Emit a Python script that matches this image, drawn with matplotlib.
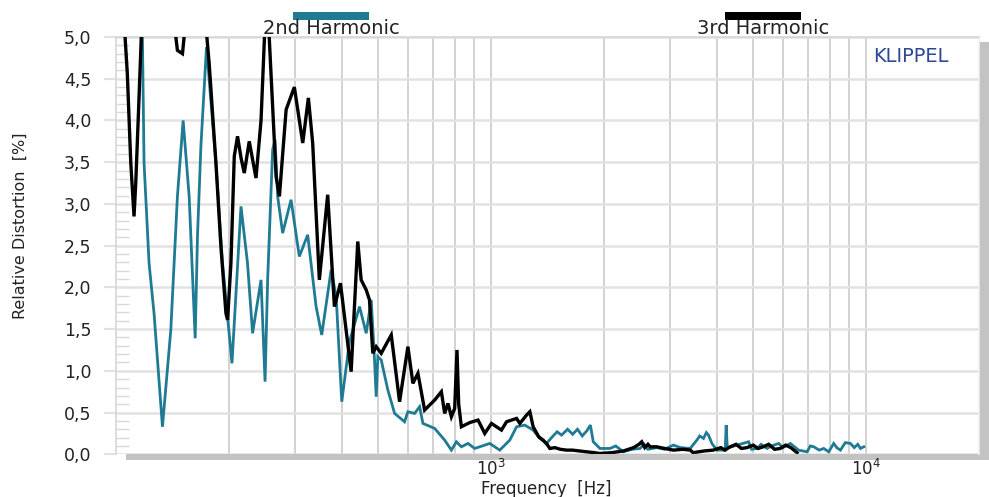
import math
import matplotlib
matplotlib.use("Agg")
import matplotlib.pyplot as plt
from matplotlib.patches import Rectangle
from matplotlib.ticker import FixedLocator, FuncFormatter, NullFormatter

# ---- data ----
freq_h3 = [104.4, 107.2, 109.5, 111.7, 112.9, 115.2, 116.8, 130.3, 144.4, 145.8, 150.4, 151.9,
           162.6, 174.7, 177.2, 184.7, 190.4, 196.4, 198.4, 202.5, 206.7, 210.9, 215.5, 219.8,
           226.6, 236.2, 243.6, 248.6, 252.5, 256.4, 267.2, 272.7, 284.2, 298.9, 314.7, 325.8,
           334.5, 348.5, 366.8, 382.3, 396.7, 423.6, 441.2, 450.5, 464.6, 474.1, 483.9, 494.0,
           509.5, 541.9, 570.3, 600.2, 618.9, 638.3, 665.1, 707.4, 737.1, 752.2, 767.6, 783.9,
           799.9, 811.3, 819.8, 833.5, 877.2, 923.2, 962.1, 1002.5, 1066, 1100, 1169.6, 1193.5,
           1243.7, 1269, 1295, 1340, 1377, 1410, 1435, 1480, 1530, 1590, 1650, 1720, 1798, 1880,
           1952, 2100, 2253, 2400, 2480, 2522, 2570, 2620, 2655, 2766, 2900, 3064, 3250,
           3396, 3458, 3700, 3911, 4100, 4200, 4342, 4500, 4650, 4813, 5000, 5150, 5319,
           5500, 5700, 5906, 6100, 6300, 6544]
dist_h3 = [5.4, 4.56, 3.49, 2.85, 3.25, 4.28, 5.0, 6.0, 5.0, 4.84, 4.80, 5.0,
           6.0, 5.0, 4.68, 3.49, 2.49, 1.69, 1.61, 2.29, 3.57, 3.81, 3.55, 3.37,
           3.75, 3.31, 4.0, 4.96, 5.6, 4.96, 3.33, 3.09, 4.13, 4.40, 3.73, 4.27,
           3.73, 2.09, 3.11, 1.77, 2.05, 0.99, 2.55, 2.09, 1.97, 1.85, 1.21, 1.29,
           1.21, 1.43, 0.63, 1.29, 0.85, 0.97, 0.53, 0.65, 0.75, 0.49, 0.61, 0.45,
           0.55, 1.25, 0.60, 0.33, 0.38, 0.41, 0.25, 0.37, 0.29, 0.39, 0.43, 0.37,
           0.47, 0.51, 0.33, 0.21, 0.17, 0.12, 0.07, 0.08, 0.06, 0.05, 0.05, 0.04, 0.03, 0.02,
           0.01, 0.02, 0.04, 0.08, 0.12, 0.15, 0.08, 0.12, 0.09, 0.09, 0.07, 0.05, 0.06,
           0.05, 0.02, 0.04, 0.05, 0.08, 0.05, 0.09, 0.12, 0.07, 0.08, 0.11, 0.07, 0.09,
           0.12, 0.06, 0.07, 0.11, 0.08, 0.02]

freq_h2 = [113.0, 117.6, 118.8, 122.5, 126.3, 133.0, 140.0, 145.8, 151.0, 156.7, 162.6, 164.9,
           168.4, 174.3, 184.7, 192.3, 203.8, 215.4, 224.2, 231.3, 243.6, 249.7, 253.7, 261.6,
           265.5, 269.8, 278.2, 292.9, 308.2, 324.4, 341.6, 353.6, 374.7, 386.4, 399.9, 419.3,
           446.0, 464.6, 479.2, 489.0, 494.0, 499.0, 509.5, 530.7, 553.1, 588.0, 600.2, 625.4,
           645.0, 658.2, 707.4, 752.2, 783.9, 808.3, 833.5, 868.2, 904.6, 992, 1055, 1122,
           1169.6, 1230, 1295, 1349, 1406, 1450, 1500, 1542, 1600, 1650, 1700, 1750, 1800, 1840,
           1873, 1952, 2075, 2150, 2253, 2380, 2496, 2560, 2620, 2766, 2900, 3064, 3200,
           3396, 3538, 3600, 3685, 3750, 3800, 3880, 4002, 4167, 4211, 4236, 4262, 4296,
           4861, 4950, 5118, 5250, 5443, 5600, 5847, 6000, 6281, 6609, 6961, 7100, 7251,
           7500, 7709, 7950, 8196, 8350, 8543, 8800, 9085, 9300, 9500, 9662, 9860]
dist_h2 = [6.2, 5.0, 3.49, 2.29, 1.69, 0.33, 1.49, 3.09, 4.0, 3.09, 1.39, 2.61,
           3.69, 4.88, 3.49, 2.29, 1.09, 2.97, 2.29, 1.45, 2.09, 0.87, 2.09, 3.65,
           3.77, 3.09, 2.65, 3.05, 2.37, 2.63, 1.77, 1.43, 2.21, 1.89, 0.63, 1.35,
           1.77, 1.45, 1.85, 1.13, 0.69, 1.17, 1.13, 0.77, 0.49, 0.39, 0.51, 0.49,
           0.57, 0.37, 0.31, 0.17, 0.05, 0.15, 0.09, 0.13, 0.07, 0.13, 0.05, 0.17,
           0.33, 0.35, 0.29, 0.19, 0.13, 0.20, 0.27, 0.23, 0.30, 0.24, 0.30, 0.22, 0.28, 0.35,
           0.15, 0.07, 0.07, 0.10, 0.03, 0.06, 0.07, 0.12, 0.06, 0.08, 0.06, 0.11, 0.08,
           0.07, 0.17, 0.22, 0.19, 0.26, 0.23, 0.13, 0.05, 0.05, 0.05, 0.35, 0.10, 0.08,
           0.15, 0.06, 0.07, 0.12, 0.07, 0.10, 0.13, 0.08, 0.13, 0.05, 0.03, 0.10, 0.09,
           0.05, 0.07, 0.03, 0.13, 0.08, 0.05, 0.14, 0.13, 0.08, 0.12, 0.07, 0.09]

series_names = ["2nd Harmonic", "3rd Harmonic"]
series_colors = ["#1f7a93", "#000000"]
y_ticks = [0.0, 0.5, 1.0, 1.5, 2.0, 2.5, 3.0, 3.5, 4.0, 4.5, 5.0]
x_major = [1000, 10000]
x_minor = [200, 300, 400, 500, 600, 700, 800, 900,
           2000, 3000, 4000, 5000, 6000, 7000, 8000, 9000]

W, H = 989, 497
fig = plt.figure(figsize=(W / 100, H / 100), dpi=100)
fig.patch.set_facecolor("white")

def fx(px):
    return px / W

def fy(py):
    return 1 - py / H

# shadow behind the plot frame
fig.patches.append(Rectangle((fx(126), fy(460)), fx(989) - fx(126), fy(42) - fy(460),
                             transform=fig.transFigure, facecolor="#c3c3c3",
                             edgecolor="none", zorder=-5))

ax = fig.add_axes([fx(116), fy(454.3), fx(979) - fx(116), fy(37) - fy(454.3)])
ax.set_facecolor("white")
ax.set_xscale("log")
ax.set_xlim(100, 20000)
ax.set_ylim(0, 5)

ax.plot(freq_h2, dist_h2, color=series_colors[0], lw=2.0, zorder=3, solid_joinstyle="miter")
ax.plot(freq_h3, dist_h3, color=series_colors[1], lw=2.4, zorder=4, solid_joinstyle="miter")

ax.xaxis.set_major_locator(FixedLocator(x_major))
ax.xaxis.set_minor_locator(FixedLocator(x_minor))
ax.xaxis.set_minor_formatter(NullFormatter())
ax.xaxis.set_major_formatter(FuncFormatter(lambda v, p: "10$^{%d}$" % round(math.log10(v))))
ax.yaxis.set_major_locator(FixedLocator(y_ticks))
ax.yaxis.set_minor_locator(FixedLocator([i / 10 for i in range(1, 50) if i % 5]))
ax.yaxis.set_major_formatter(FuncFormatter(lambda v, p: ("%.1f" % v).replace(".", ",")))

ax.grid(True, axis="x", which="both", color="#cfcfcf", lw=1.3, zorder=1)
ax.grid(True, axis="y", which="major", color="#e2e2e2", lw=1.8, zorder=1)

ax.tick_params(axis="x", which="both", length=0, pad=3, labelsize=12, labelcolor="#222222")
ax.tick_params(axis="y", which="major", direction="out", length=8.6, width=1.5,
               color="#e2e2e2", pad=9, labelsize=12.5, labelcolor="#222222")
ax.tick_params(axis="y", which="minor", direction="in", length=9.5, width=1.0,
               color="#d9d9d9")
for s in ax.spines.values():
    s.set_color("#d6d6d6")
    s.set_linewidth(1.2)
ax.spines["bottom"].set_visible(False)
ax.spines["right"].set_color("#f0f0f0")

fig.text(fx(546), fy(488.5), "Frequency  [Hz]", ha="center", va="center", fontsize=12,
         color="#222222")
fig.text(fx(20), fy(226), "Relative Distortion  [%]", rotation=90, ha="center", va="center",
         fontsize=11.5, color="#222222",
         family=["Liberation Sans Narrow", "DejaVu Sans Condensed", "DejaVu Sans"])
fig.text(fx(911), fy(57), "KLIPPEL", ha="center", va="center", fontsize=14, color="#2b4796")

# legend: bar above the name
for name, col, cx in zip(series_names, series_colors, [331, 763]):
    fig.patches.append(Rectangle((fx(cx - 38), fy(20)), fx(76), fy(12) - fy(20),
                                 transform=fig.transFigure, facecolor=col,
                                 edgecolor="none"))
    fig.text(fx(cx), fy(28), name, ha="center", va="center", fontsize=14, color="#222222")

fig.savefig("out.png", dpi=100, facecolor="white")
